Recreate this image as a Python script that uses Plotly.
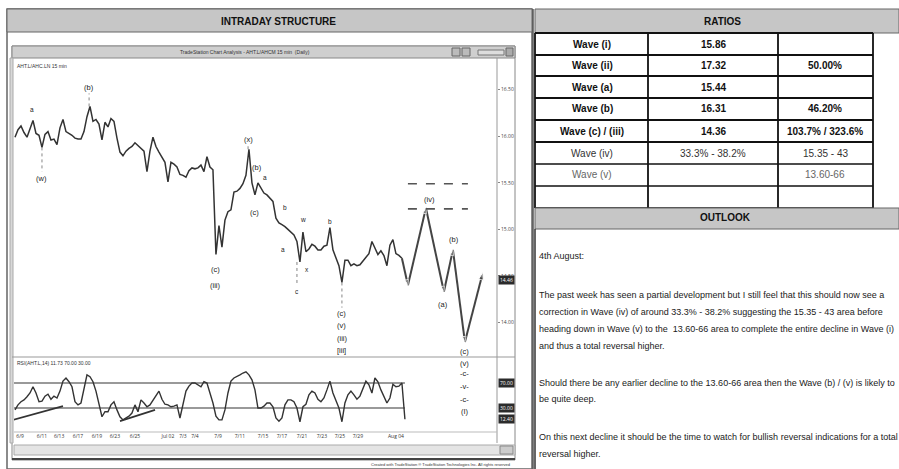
import plotly.graph_objects as go

W, H = 899, 469

# ---- data ----
# 15 min closes, one value per bar (bar 0 = first bar shown)
price_close = [
    15.99, 16.07, 16.11, 16.04, 15.99, 16.09, 16.17, 16.03, 16.01, 15.88,
    16.02, 16.05, 15.96, 15.97, 15.91, 16.09, 16.18, 16.05, 16.03, 16.01,
    15.98, 15.97, 15.97, 16.05, 16.21, 16.32, 16.16, 16.18, 16.13, 15.96,
    16.15, 16.10, 16.19, 16.16, 15.98, 15.83, 15.79, 15.84, 15.87, 15.89,
    15.93, 15.90, 15.87, 15.84, 15.62, 15.84, 15.99, 15.89, 15.83, 15.78,
    15.72, 15.51, 15.72, 15.70, 15.67, 15.59, 15.58, 15.56, 15.63, 15.66,
    15.65, 15.66, 15.69, 15.62, 15.78, 15.67, 15.64, 14.73, 15.04, 14.81,
    15.10, 15.19, 15.21, 15.40, 15.41, 15.44, 15.49, 15.58, 15.86, 15.50,
    15.37, 15.50, 15.44, 15.39, 15.37, 15.34, 15.30, 15.12, 15.07, 15.05,
    15.03, 15.00, 14.97, 14.94, 14.87, 14.65, 14.97, 14.76, 14.79, 14.84,
    14.82, 14.78, 14.78, 14.82, 14.83, 15.02, 14.78, 14.69, 14.61, 14.43,
    14.67, 14.67, 14.61, 14.63, 14.61, 14.62, 14.66, 14.69, 14.74, 14.87,
    14.80, 14.73, 14.77, 14.72, 14.61, 14.83, 14.89, 14.74, 14.72, 14.69,
]

# projected path
proj_bar = [129, 131, 137, 143, 146, 150, 156]
proj_price = [14.69, 14.40, 15.23, 14.33, 14.78, 13.79, 14.54]

# wave (iv) target zone
zone_levels = [15.49, 15.22]
zone_bars = [131, 151]

# RSI values, one per bar
rsi = [
    27, 35, 40, 43, 48, 54, 64, 54, 40, 41,
    49, 52, 44, 49, 46, 57, 73, 78, 72, 64,
    40, 35, 38, 62, 83, 80, 72, 57, 36, 16,
    24, 24, 35, 40, 27, 16, 11, 14, 17, 22,
    35, 24, 43, 38, 32, 35, 43, 51, 57, 44,
    36, 35, 32, 33, 35, 14, 38, 57, 65, 70,
    70, 67, 64, 72, 70, 54, 38, 17, 11, 11,
    27, 54, 73, 78, 80, 83, 86, 88, 83, 75,
    59, 30, 30, 33, 38, 38, 32, 14, 9, 14,
    35, 43, 43, 40, 30, 8, 32, 36, 51, 57,
    54, 44, 40, 46, 59, 73, 54, 43, 30, 8,
    38, 51, 57, 51, 44, 49, 62, 73, 67, 54,
    78, 72, 59, 49, 38, 46, 68, 64, 65, 70,
    12,
]
rsi_levels = [70, 30]
rsi_trend1_bar = [-0.7, 16]
rsi_trend1_val = [11, 33]
rsi_trend2_bar = [35, 46.7]
rsi_trend2_val = [9, 27]

price_ticks = [14.0, 14.5, 15.0, 15.5, 16.0, 16.5]
last_price = 14.46
rsi_last = 12.4

date_bars = [1.7, 9, 14.7, 21, 27.3, 33.3, 40, 51, 56, 60, 67.7, 75, 82.7, 89,
             95.7, 102.3, 108.3, 114.3, 127]
date_labels = ["6/9", "6/11", "6/13", "6/17", "6/19", "6/23", "6/25", "Jul 02",
               "7/3", "7/4", "7/9", "7/11", "7/15", "7/17", "7/21", "7/23",
               "7/25", "7/29", "Aug 04"]

# wave labels: bar, price, text
wave_bar = [9, 5.7, 24.7, 66.7, 66.7, 77.7, 80.7, 83.3, 79.7, 90, 89.3, 96,
            97.3, 94, 105, 109, 109, 109, 109, 138.3, 142.7, 146.3, 150]
wave_price = [15.55, 16.29, 16.52, 14.57, 14.40, 15.96, 15.66, 15.56, 15.18,
              15.23, 14.78, 15.11, 14.57, 14.33, 15.08, 14.10, 13.97, 13.83,
              13.70, 15.32, 14.19, 14.89, 13.69]
wave_text = ["(w)", "a", "(b)", "(c)", "(iii)", "(x)", "(b)", "a", "(c)", "b",
             "a", "w", "x", "c", "b", "(c)", "(v)", "(iii)", "[iii]", "(iv)",
             "(a)", "(b)", "(c)"]
# labels of the last low that run down into the RSI pane
low_stack_bar = [150, 150, 150, 150, 150]
low_stack_val = [102, 86, 64, 43, 24]
low_stack_text = ["(v)", "-c-", "-v-", "-c-", "(I)"]

# leader lines from turning points to their labels: bar, price from, price to
leader_bar = [9, 24.7, 77.7, 109, 94]
leader_from = [15.88, 16.32, 15.86, 14.43, 14.65]
leader_to = [15.62, 16.46, 15.91, 14.16, 14.40]

ratio_wave = ["Wave (i)", "Wave (ii)", "Wave (a)", "Wave (b)", "Wave (c) / (iii)",
              "Wave (iv)", "Wave (v)", ""]
ratio_level = ["15.86", "17.32", "15.44", "16.31", "14.36", "33.3% - 38.2%", "", ""]
ratio_pct = ["", "50.00%", "", "46.20%", "103.7% / 323.6%", "15.35 - 43",
             "13.60-66", ""]

outlook_lines = [
    "4th August:",
    "The past week has seen a partial development but I still feel that this should now see a",
    "correction in Wave (iv) of around 33.3% - 38.2% suggesting the 15.35 - 43 area before",
    "heading down in Wave (v) to the  13.60-66 area to complete the entire decline in Wave (i)",
    "and thus a total reversal higher.",
    "Should there be any earlier decline to the 13.60-66 area then the Wave (b) / (v) is likely to",
    "be quite deep.",
    "On this next decline it should be the time to watch for bullish reversal indications for a total",
    "reversal higher.",
]
outlook_y = [256, 295, 312, 329, 346, 383, 399, 437, 454]


def X(px):
    return px / W


def Y(py):
    return 1 - py / H


NARROW = "Liberation Sans Narrow, Arial Narrow, Liberation Sans, Arial"
INK = "#333333"

fig = go.Figure()

bars = list(range(len(price_close)))
fig.add_trace(go.Scatter(x=bars, y=price_close, mode="lines",
                         line=dict(color=INK, width=1.5), xaxis="x", yaxis="y"))
fig.add_trace(go.Scatter(
    x=proj_bar, y=proj_price, mode="lines+markers",
    line=dict(color="#444", width=2),
    marker=dict(symbol="arrow", size=[0, 6, 6, 6, 6, 6, 8], angleref="previous",
                color="#444"),
    xaxis="x", yaxis="y"))
for lv in zone_levels:
    fig.add_trace(go.Scatter(x=zone_bars, y=[lv, lv], mode="lines",
                             line=dict(color="#555", width=1.6, dash="dash"),
                             xaxis="x", yaxis="y"))
for b, p0, p1 in zip(leader_bar, leader_from, leader_to):
    fig.add_trace(go.Scatter(x=[b, b], y=[p0, p1], mode="lines",
                             line=dict(color="#666", width=0.8, dash="dot"),
                             xaxis="x", yaxis="y"))

rsi_bars = list(range(len(rsi)))
for lv in rsi_levels:
    fig.add_trace(go.Scatter(x=[-0.7, rsi_bars[-1]], y=[lv, lv], mode="lines",
                             line=dict(color="#777", width=1.4),
                             xaxis="x2", yaxis="y2"))
fig.add_trace(go.Scatter(x=rsi_bars, y=rsi, mode="lines",
                         line=dict(color=INK, width=1.4), xaxis="x2", yaxis="y2"))
fig.add_trace(go.Scatter(x=rsi_trend1_bar, y=rsi_trend1_val, mode="lines",
                         line=dict(color=INK, width=1.6), xaxis="x2", yaxis="y2"))
fig.add_trace(go.Scatter(x=rsi_trend2_bar, y=rsi_trend2_val, mode="lines",
                         line=dict(color=INK, width=1.6), xaxis="x2", yaxis="y2"))

annotations = []
for b, p, t in zip(wave_bar, wave_price, wave_text):
    big = t.startswith("(") or t.startswith("[")
    annotations.append(dict(x=b, y=p, xref="x", yref="y", text=t, showarrow=False,
                            font=dict(size=7.5 if big else 6.5, color="#222",
                                      family="Liberation Sans")))
for b, v, t in zip(low_stack_bar, low_stack_val, low_stack_text):
    annotations.append(dict(x=b, y=v, xref="x2", yref="y2", text=t, showarrow=False,
                            font=dict(size=7.5, color="#222", family="Liberation Sans")))


def note(px, py, text, size, color="#222", anchor="center"):
    annotations.append(dict(x=X(px), y=Y(py), xref="paper", yref="paper", text=text,
                            showarrow=False, xanchor=anchor, yanchor="middle",
                            font=dict(size=size, color=color, family=NARROW)))


# current value boxes on the right scale
annotations.append(dict(x=X(506), y=last_price, xref="paper", yref="y",
                        xanchor="center", yanchor="middle",
                        text=f"{last_price:.2f}", showarrow=False, bgcolor="#2b2b2b",
                        font=dict(size=5, color="white"), borderpad=1))
for v in [70, 30, rsi_last]:
    annotations.append(dict(x=X(506), y=v, xref="paper", yref="y2",
                            xanchor="center", yanchor="middle",
                            text=f"{v:.2f}", showarrow=False, bgcolor="#2b2b2b",
                            font=dict(size=5, color="white"), borderpad=1))

# chart window texts
note(278, 21, "<b>INTRADAY STRUCTURE</b>", 10, "#111")
note(245, 52, "TradeStation Chart Analysis - AHT.L/AHCM 15 min  (Daily)", 5, "#333")
note(15, 66, "AHT.L/AHC.LN 15 min", 5, "#333", "left")
note(15, 363, "RSI(AHT.L,14) 11.73 70.00 30.00", 5, "#333", "left")
note(512, 464, "Created with TradeStation \u00ae TradeStation Technologies Inc. "
     "All rights reserved", 4, "#333", "right")
note(722, 21, "<b>RATIOS</b>", 10, "#111")
note(725, 218, "<b>OUTLOOK</b>", 10, "#111")

# ratios table text
row_top = [33, 55, 76, 98, 120, 142, 164, 186, 208]
col_mid = [592, 713, 825]
for r in range(len(ratio_wave)):
    yc = (row_top[r] + row_top[r + 1]) / 2
    bold = r < 5
    col = "#111" if r < 5 else ("#333" if r == 5 else "#666")
    for c, txt in enumerate([ratio_wave[r], ratio_level[r], ratio_pct[r]]):
        if txt:
            note(col_mid[c], yc, f"<b>{txt}</b>" if bold else txt, 10, col)

for txt, yy in zip(outlook_lines, outlook_y):
    note(537, yy, txt, 9, "#1a1a1a", "left")

shapes = []


def rect(x0, y0, x1, y1, fill="rgba(0,0,0,0)", line="#555", w=1):
    shapes.append(dict(type="rect", xref="paper", yref="paper", x0=X(x0), x1=X(x1),
                       y0=Y(y0), y1=Y(y1), fillcolor=fill, line=dict(color=line, width=w)))


def hline(x0, x1, y, color="#555", w=1):
    shapes.append(dict(type="line", xref="paper", yref="paper", x0=X(x0), x1=X(x1),
                       y0=Y(y), y1=Y(y), line=dict(color=color, width=w)))


def vline(x, y0, y1, color="#555", w=1):
    shapes.append(dict(type="line", xref="paper", yref="paper", x0=X(x), x1=X(x),
                       y0=Y(y0), y1=Y(y1), line=dict(color=color, width=w)))


# left panel
rect(7, 9, 532, 469, line="#666", w=1.5)
rect(7, 9, 532, 32, fill="#c6c6c6", line="#666", w=1)
rect(12, 46, 515, 460, line="#888", w=1)
rect(12, 46, 515, 58, fill="#cfcfcf", line="#888", w=1)
rect(452, 48, 460, 56, fill="#bbb", line="#666")
rect(462, 48, 470, 56, fill="#bbb", line="#666")
rect(478, 50, 504, 55, fill="#ddd", line="#777")
rect(506, 48, 513, 56, fill="#aaa", line="#666")
rect(10, 58, 13, 443, fill="#d8d8d8", line="#aaa")
vline(497, 58, 443, "#999", 1)
hline(12, 515, 357, "#999", 1)
hline(14, 497, 432, "#bbb", 1)
rect(14, 445, 515, 455, fill="#e4e4e4", line="#aaa")
rect(500, 446, 513, 454, fill="#ccc", line="#888")
hline(12, 515, 459, "#444", 2)
vline(533, 9, 469, "#555", 1.5)

# right panel
rect(535, 9, 899, 33, fill="#c6c6c6", line="#666", w=1)
for i, yy in enumerate(row_top):
    hline(535, 873, yy, "#111", 2.2 if i < 6 else 1.6)
for xx in [535, 648, 778, 873]:
    vline(xx, 33, 208, "#111", 1.8)
rect(535, 208, 899, 229, fill="#c6c6c6", line="#666", w=1)
vline(535, 229, 469, "#333", 1.5)

fig.update_layout(
    width=W, height=H,
    margin=dict(l=0, r=0, t=0, b=0),
    paper_bgcolor="white", plot_bgcolor="white",
    showlegend=False,
    shapes=shapes, annotations=annotations,
    xaxis=dict(domain=[X(14), X(497)], range=[-0.33, 160.7], showticklabels=False,
               showgrid=False, zeroline=False, fixedrange=True),
    yaxis=dict(domain=[Y(357), Y(58)], range=[13.63, 16.84], side="right",
               tickvals=price_ticks, ticktext=[f"{t:.2f}" for t in price_ticks],
               tickfont=dict(size=5, color="#444"), ticks="outside", ticklen=2,
               tickcolor="#888", showgrid=False, zeroline=False),
    xaxis2=dict(domain=[X(14), X(497)], range=[-0.33, 160.7], anchor="y2",
                tickvals=date_bars, ticktext=date_labels,
                tickfont=dict(size=5, color="#333"), ticks="", showgrid=False,
                zeroline=False),
    yaxis2=dict(domain=[Y(432), Y(357)], range=[-8.4, 111.6], side="right",
                showticklabels=False, showgrid=False, zeroline=False, anchor="x2"),
)

fig.write_html("out.html", config={"displayModeBar": False},
               post_script="document.body.style.margin='0';")
